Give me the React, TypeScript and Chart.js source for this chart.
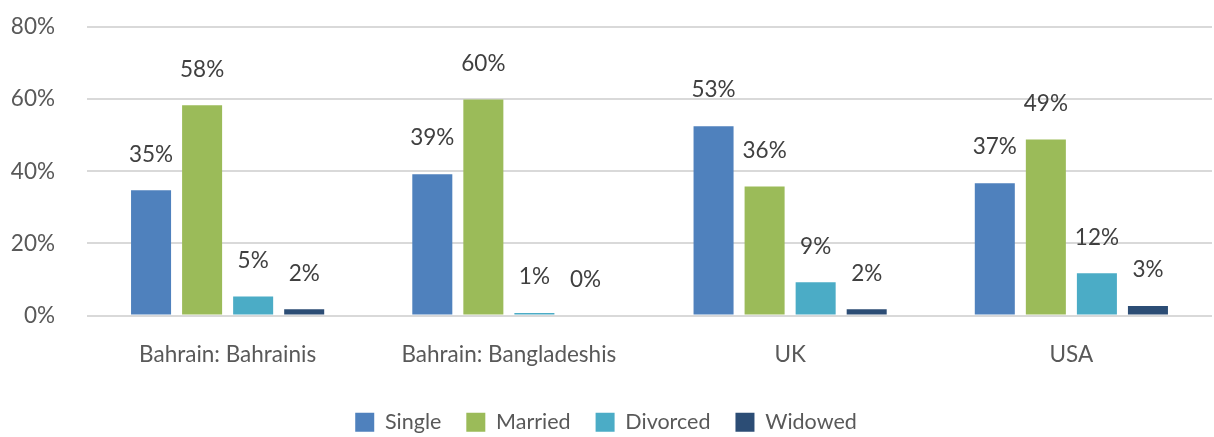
import React, { useEffect, useRef } from "react";
import { Chart, registerables } from "chart.js";

Chart.register(...registerables);

const categories = ["Bahrain: Bahrainis", "Bahrain: Bangladeshis", "UK", "USA"];
const single = [34.7, 39.2, 52.5, 36.7];
const married = [58.3, 59.9, 35.8, 48.8];
const divorced = [5.3, 0.7, 9.2, 11.7];
const widowed = [1.7, 0.0, 1.7, 2.6];
const yTicks = [0, 20, 40, 60, 80];

const FONT = "Lato, 'Open Sans', sans-serif";
const FS = 22.5;

const labelPlugin = {
  id: "barLabels",
  afterDatasetsDraw(chart: any) {
    const ctx = chart.ctx;
    ctx.save();
    ctx.font = `${FS}px ${FONT}`;
    ctx.fillStyle = "#404040";
    ctx.textAlign = "center";
    ctx.textBaseline = "middle";
    chart.data.datasets.forEach((ds: any, i: number) => {
      const meta = chart.getDatasetMeta(i);
      meta.data.forEach((el: any, j: number) => {
        const v = ds.data[j];
        ctx.fillText(Math.round(v) + "%", el.x, el.y - 36);
      });
    });
    ctx.restore();
  },
};

export default function App() {
  const ref = useRef<HTMLCanvasElement>(null);
  useEffect(() => {
    const mk = (label: string, data: number[], color: string) => ({
      label,
      data,
      backgroundColor: color,
      borderWidth: 0,
      barPercentage: 0.784,
      categoryPercentage: 0.726,
    });
    const chart = new Chart(ref.current!, {
      type: "bar",
      data: {
        labels: categories,
        datasets: [
          mk("Single", single, "#4F81BD"),
          mk("Married", married, "#9BBB59"),
          mk("Divorced", divorced, "#4BACC6"),
          mk("Widowed", widowed, "#2C4D75"),
        ],
      },
      options: {
        animation: false,
        responsive: false,
        layout: { padding: { top: 27, right: 2, left: 0, bottom: -6 } },
        plugins: {
          tooltip: { enabled: false },
          legend: {
            position: "bottom",
            labels: {
              font: { family: FONT, size: 21.5 },
              color: "#595959",
              boxWidth: 19,
              boxHeight: 19,
              padding: 25,
              useBorderRadius: false,
            },
          },
        },
        scales: {
          x: {
            grid: { display: false },
            border: { display: false },
            ticks: {
              font: { family: FONT, size: FS },
              color: "#595959",
              padding: 18,
            },
          },
          y: {
            min: 0,
            max: 80,
            afterBuildTicks: (s: any) => {
              s.ticks = yTicks.map((v) => ({ value: v }));
            },
            afterFit: (s: any) => {
              s.width = 87;
              s.paddingTop = 0;
              s.paddingBottom = 0;
            },
            grid: { color: "#D9D9D9", lineWidth: 2, drawTicks: false },
            border: { display: false },
            ticks: {
              font: { family: FONT, size: FS },
              color: "#595959",
              padding: 32,
              callback: (v: any) => v + "%",
            },
          },
        },
      },
      plugins: [labelPlugin],
    });
    return () => chart.destroy();
  }, []);
  return (
    <div style={{ position: "absolute", left: 0, top: 0, width: 1214, height: 437 }}>
      <canvas ref={ref} width={1214} height={437} />
    </div>
  );
}
